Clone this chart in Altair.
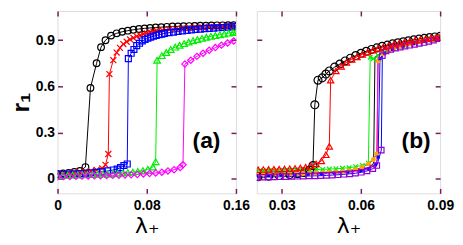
import altair as alt
import pandas as pd

# ---------------- panel (a) data ----------------
a_black_x = [0, 0.005, 0.01, 0.015, 0.02, 0.025, 0.0295, 0.035, 0.039, 0.043, 0.048, 0.053, 0.058, 0.063, 0.068, 0.073,
             0.078, 0.083, 0.088, 0.093, 0.098, 0.103, 0.108, 0.113, 0.118, 0.123, 0.128, 0.133, 0.138, 0.143, 0.148,
             0.153, 0.158]
a_black_y = [0.03, 0.033, 0.037, 0.043, 0.05, 0.075, 0.59, 0.75, 0.855, 0.9, 0.93, 0.945, 0.955, 0.962, 0.968, 0.973,
             0.977, 0.98, 0.983, 0.985, 0.987, 0.989, 0.99, 0.991, 0.992, 0.993, 0.994, 0.995, 0.996, 0.997, 0.997,
             0.998, 0.998]

a_red_x = [0, 0.005, 0.01, 0.015, 0.02, 0.025, 0.03, 0.035, 0.04, 0.043, 0.0455, 0.0465, 0.05, 0.053, 0.056, 0.059,
           0.062, 0.065, 0.068, 0.071, 0.074, 0.077, 0.08, 0.083, 0.086, 0.089, 0.094, 0.1, 0.106, 0.112, 0.118, 0.124,
           0.13, 0.136, 0.142, 0.148, 0.154, 0.16]
a_red_y = [0.03, 0.034, 0.037, 0.04, 0.043, 0.046, 0.05, 0.056, 0.066, 0.09, 0.16, 0.68, 0.77, 0.82, 0.85, 0.875,
           0.89, 0.905, 0.915, 0.925, 0.932, 0.94, 0.945, 0.95, 0.955, 0.96, 0.965, 0.97, 0.974, 0.977, 0.98, 0.982,
           0.984, 0.986, 0.988, 0.99, 0.991, 0.992]

a_blue_x = [0, 0.005, 0.01, 0.015, 0.02, 0.025, 0.03, 0.035, 0.04, 0.045, 0.05, 0.0535, 0.0565, 0.0595, 0.0625,
            0.0635, 0.066, 0.0685, 0.071, 0.0735, 0.076, 0.0785, 0.081, 0.0835, 0.086, 0.0885, 0.091, 0.0935, 0.096,
            0.1, 0.104, 0.108, 0.112, 0.116, 0.12, 0.124, 0.128, 0.132, 0.136, 0.14, 0.144, 0.148, 0.152, 0.156, 0.16]
a_blue_y = [0.025, 0.027, 0.029, 0.031, 0.033, 0.035, 0.038, 0.041, 0.045, 0.05, 0.056, 0.062, 0.072, 0.085, 0.095,
            0.78, 0.815, 0.84, 0.865, 0.88, 0.895, 0.905, 0.913, 0.92, 0.926, 0.931, 0.936, 0.94, 0.944,
            0.949, 0.953, 0.957, 0.961, 0.964, 0.967, 0.97, 0.972, 0.975, 0.977, 0.979, 0.981, 0.983, 0.985, 0.987, 0.988]

a_green_x = [0, 0.0045, 0.009, 0.0135, 0.018, 0.0225, 0.027, 0.0315, 0.036, 0.0405, 0.045, 0.0495, 0.054, 0.0585,
             0.063, 0.0675, 0.072, 0.0765, 0.081, 0.0855, 0.088, 0.0893, 0.0935, 0.0975, 0.1015, 0.1055, 0.1095,
             0.1135, 0.1175, 0.1215, 0.1255, 0.1295, 0.1335, 0.1375, 0.1415, 0.1455, 0.1495, 0.1535, 0.1575, 0.16]
a_green_y = [0.02, 0.021, 0.022, 0.023, 0.024, 0.025, 0.026, 0.027, 0.028, 0.029, 0.03, 0.032, 0.034, 0.036,
             0.039, 0.042, 0.046, 0.052, 0.06, 0.075, 0.11, 0.77, 0.8, 0.82, 0.84, 0.855, 0.867,
             0.878, 0.888, 0.897, 0.905, 0.912, 0.919, 0.925, 0.93, 0.936, 0.941, 0.946, 0.95, 0.953]

a_mag_x = [0, 0.0055, 0.011, 0.0165, 0.022, 0.0275, 0.033, 0.0385, 0.044, 0.0495, 0.055, 0.0605, 0.066, 0.0715,
           0.077, 0.0825, 0.088, 0.0935, 0.099, 0.1045, 0.11, 0.1125, 0.1142, 0.1195, 0.125, 0.1305, 0.136, 0.1415,
           0.147, 0.1525, 0.158]
a_mag_y = [0.012, 0.013, 0.014, 0.015, 0.016, 0.017, 0.018, 0.019, 0.02, 0.021, 0.022, 0.023, 0.025, 0.027,
           0.03, 0.033, 0.037, 0.042, 0.05, 0.058, 0.072, 0.09, 0.745, 0.77, 0.795, 0.815, 0.835, 0.852,
           0.868, 0.882, 0.895]

# ---------------- panel (b) data ----------------
b_black_x = [0.021, 0.025, 0.029, 0.033, 0.036, 0.0385, 0.0405, 0.0418, 0.0425, 0.0437, 0.0453, 0.0467, 0.048,
             0.05, 0.052, 0.054, 0.056, 0.058, 0.06, 0.062, 0.064, 0.066, 0.068, 0.07, 0.072, 0.074, 0.076, 0.078,
             0.08, 0.082, 0.084, 0.086, 0.088, 0.09]
b_black_y = [0.012, 0.016, 0.02, 0.026, 0.032, 0.04, 0.055, 0.085, 0.48, 0.64, 0.655, 0.68, 0.70,
             0.725, 0.745, 0.765, 0.783, 0.8, 0.815, 0.828, 0.84, 0.85, 0.86, 0.868, 0.876, 0.883, 0.89, 0.896,
             0.902, 0.907, 0.912, 0.917, 0.921, 0.925]

b_red_x = [0.021, 0.023, 0.025, 0.027, 0.029, 0.031, 0.033, 0.035, 0.037, 0.039, 0.041, 0.043, 0.045, 0.0467, 0.048,
           0.0485, 0.0505, 0.0525, 0.0545, 0.0565, 0.0585, 0.0605, 0.0625, 0.0645, 0.0665, 0.0685, 0.0705, 0.0725,
           0.0745, 0.0765, 0.0785, 0.0805, 0.0825, 0.0845, 0.0865, 0.0885, 0.09]
b_red_y = [0.058, 0.059, 0.06, 0.061, 0.062, 0.063, 0.064, 0.066, 0.069, 0.074, 0.082, 0.095, 0.115, 0.155, 0.21,
           0.64, 0.7, 0.73, 0.755, 0.775, 0.792, 0.808, 0.822, 0.835, 0.847, 0.857, 0.866, 0.874,
           0.881, 0.888, 0.894, 0.9, 0.905, 0.91, 0.915, 0.92, 0.923]

b_green_x = [0.0205, 0.023, 0.0255, 0.028, 0.0305, 0.033, 0.0355, 0.038, 0.0405, 0.043, 0.0455, 0.048, 0.0505, 0.053,
             0.0555, 0.058, 0.0605, 0.0628, 0.0635, 0.0647, 0.0665, 0.0685, 0.0705, 0.0725, 0.0745, 0.0765, 0.0785,
             0.0805, 0.0825, 0.0845, 0.0865, 0.0885, 0.09]
b_green_y = [0.05, 0.051, 0.052, 0.053, 0.054, 0.055, 0.056, 0.057, 0.058, 0.059, 0.06, 0.062, 0.064, 0.067,
             0.071, 0.077, 0.086, 0.1, 0.79, 0.78, 0.8, 0.818, 0.833, 0.846, 0.857, 0.867, 0.876,
             0.884, 0.892, 0.9, 0.907, 0.914, 0.92]

b_yellow_x = [0.0205, 0.03, 0.04, 0.05, 0.055, 0.06, 0.063, 0.0648, 0.0653, 0.067, 0.07, 0.074, 0.078, 0.082, 0.086, 0.09]
b_yellow_y = [0.03, 0.033, 0.037, 0.043, 0.048, 0.057, 0.072, 0.1, 0.79, 0.81, 0.832, 0.855, 0.872, 0.888, 0.903, 0.918]

b_orange_x = [0.0205, 0.023, 0.0255, 0.028, 0.0305, 0.033, 0.0355, 0.038, 0.0405, 0.043, 0.0455, 0.048, 0.0505,
              0.053, 0.0555, 0.058, 0.0605, 0.0629, 0.0647, 0.066, 0.0665, 0.0685, 0.0705, 0.0725, 0.0745, 0.0765,
              0.0785, 0.0805, 0.0825, 0.0845, 0.0865, 0.0885, 0.09]
b_orange_y = [0.025, 0.026, 0.027, 0.028, 0.029, 0.03, 0.031, 0.032, 0.034, 0.036, 0.038, 0.04, 0.043,
              0.047, 0.052, 0.06, 0.072, 0.095, 0.124, 0.16, 0.765, 0.81, 0.83, 0.845, 0.857, 0.867,
              0.876, 0.884, 0.892, 0.899, 0.906, 0.913, 0.918]

b_blue_x = [0.0205, 0.025, 0.03, 0.035, 0.04, 0.045, 0.05, 0.055, 0.06, 0.063, 0.0655, 0.0665, 0.0672, 0.069, 0.072,
            0.076, 0.08, 0.084, 0.088, 0.09]
b_blue_y = [0.02, 0.021, 0.023, 0.025, 0.028, 0.031, 0.035, 0.041, 0.052, 0.065, 0.09, 0.14, 0.78, 0.815, 0.84,
            0.862, 0.878, 0.893, 0.908, 0.915]

b_mag_x = [0.0205, 0.03, 0.04, 0.05, 0.055, 0.06, 0.063, 0.0652, 0.0661, 0.0664, 0.068, 0.071, 0.075, 0.079, 0.083,
           0.087, 0.09]
b_mag_y = [0.022, 0.025, 0.029, 0.035, 0.04, 0.05, 0.063, 0.085, 0.12, 0.79, 0.815, 0.838, 0.858, 0.873, 0.888,
           0.903, 0.916]

b_purple_x = [0.0205, 0.0227, 0.0249, 0.0271, 0.0293, 0.0315, 0.0337, 0.0359, 0.0381, 0.0403, 0.0425, 0.0447,
              0.0469, 0.0491, 0.0513, 0.0535, 0.0557, 0.0579, 0.0601, 0.0623, 0.0645, 0.066, 0.0677, 0.0681, 0.0695,
              0.0713, 0.0731, 0.0749, 0.0767, 0.0785, 0.0803, 0.0821, 0.0839, 0.0857, 0.0875, 0.0893]
b_purple_y = [0.008, 0.009, 0.01, 0.011, 0.012, 0.013, 0.014, 0.015, 0.016, 0.017, 0.018, 0.019,
              0.021, 0.023, 0.025, 0.028, 0.031, 0.035, 0.041, 0.05, 0.065, 0.085, 0.185, 0.8, 0.83,
              0.84, 0.848, 0.855, 0.861, 0.867, 0.873, 0.879, 0.885, 0.892, 0.9, 0.91]

a_xticks = [0, 0.08, 0.16]
b_xticks = [0.03, 0.06, 0.09]
y_ticks = [0, 0.3, 0.6, 0.9]
a_label = ["(a)", 0.1336, 0.244]
b_label = ["(b)", 0.0809, 0.242]

X_PATH = "M-1,-1L1,1M-1,1L1,-1"
TICK_COLOR = "#7b1e5c"
Y_DOM = [-0.096, 1.09]
FONT = "Liberation Sans"

# (name, xs, ys, colour, shape, filled, size, draw_points)
series_a = [
    ("black", a_black_x, a_black_y, "#000000", "circle", False, 45, True),
    ("red", a_red_x, a_red_y, "#ff0000", X_PATH, False, 36, True),
    ("blue", a_blue_x, a_blue_y, "#0000ff", "square", False, 36, True),
    ("green", a_green_x, a_green_y, "#00ee00", "triangle-up", False, 45, True),
    ("magenta", a_mag_x, a_mag_y, "#ff00ff", "diamond", False, 40, True),
]
series_b = [
    ("black", b_black_x, b_black_y, "#000000", "circle", False, 64, True),
    ("green", b_green_x, b_green_y, "#00ee00", X_PATH, False, 22, True),
    ("yellow", b_yellow_x, b_yellow_y, "#eeee00", "circle", True, 10, False),
    ("orange", b_orange_x, b_orange_y, "#ffa500", "circle", True, 25, True),
    ("blue", b_blue_x, b_blue_y, "#0000ff", "square", True, 10, True),
    ("magenta", b_mag_x, b_mag_y, "#ff00ff", "circle", True, 10, False),
    ("purple", b_purple_x, b_purple_y, "#9400d3", "square", False, 30, True),
    ("red", b_red_x, b_red_y, "#ff0000", "triangle-up", False, 40, True),
]


def tick_axis(orient, values):
    return alt.Axis(orient=orient, values=values, labels=False, ticks=True, tickSize=5,
                    tickColor=TICK_COLOR, tickWidth=1.5, domain=False, grid=False,
                    offset=-5, title=None)


def panel(series, xdom, xticks, ylab, label, W, H):
    frames = [pd.DataFrame({"x": xs, "y": ys, "s": n}) for n, xs, ys, *_ in series]
    df = pd.concat(frames, ignore_index=True)
    xs = alt.Scale(domain=xdom, nice=False, zero=False)
    ys = alt.Scale(domain=Y_DOM, nice=False, zero=False)

    x_main = alt.Axis(orient="bottom", values=xticks, format=".2~f", title="λ₊", ticks=False,
                      domain=False, grid=False, labelFlush=False, labelOverlap=False,
                      labelFont=FONT, labelFontSize=14, labelFontWeight="bold", labelColor="black",
                      labelPadding=5, titleFont="DejaVu Sans", titleFontSize=22,
                      titleFontWeight="normal", titleColor="black", titlePadding=3)
    if ylab:
        y_main = alt.Axis(orient="left", values=y_ticks, format=".1~f", title="r₁", ticks=False,
                          domain=False, grid=False, labelFont=FONT, labelFontSize=14,
                          labelFontWeight="bold", labelColor="black", labelPadding=3,
                          labelFlush=False, labelOverlap=False,
                          titleFont=FONT, titleFontSize=25, titleFontWeight="bold",
                          titleColor="black", titlePadding=2)
    else:
        y_main = None

    names = [s[0] for s in series]
    cols = [s[3] for s in series]
    lines = alt.Chart(df).mark_line(strokeWidth=1, clip=True).encode(
        x=alt.X("x:Q", scale=xs, axis=x_main),
        y=alt.Y("y:Q", scale=ys, axis=y_main),
        color=alt.Color("s:N", scale=alt.Scale(domain=names, range=cols), legend=None),
        order=alt.Order("x:Q"),
    )
    layers = [lines]
    for n, sx, sy, col, shape, filled, size, draw in series:
        if not draw:
            continue
        d = pd.DataFrame({"x": sx, "y": sy})
        if filled:
            mk = alt.Chart(d).mark_point(shape=shape, filled=True, size=size, color=col, opacity=1, clip=True)
        else:
            mk = alt.Chart(d).mark_point(shape=shape, filled=False, size=size, color=col,
                                         strokeWidth=1.2, opacity=1, clip=True)
        layers.append(mk.encode(x=alt.X("x:Q", scale=xs, axis=None),
                                y=alt.Y("y:Q", scale=ys, axis=None)))
    t1 = alt.Chart(df).mark_point(opacity=0).encode(
        x=alt.X("x:Q", scale=xs, axis=tick_axis("bottom", xticks)),
        y=alt.Y("y:Q", scale=ys, axis=tick_axis("left", y_ticks)))
    t2 = alt.Chart(df).mark_point(opacity=0).encode(
        x=alt.X("x:Q", scale=xs, axis=tick_axis("top", xticks)),
        y=alt.Y("y:Q", scale=ys, axis=tick_axis("right", y_ticks)))
    lab = alt.Chart(pd.DataFrame({"t": [label[0]], "x": [label[1]], "y": [label[2]]})).mark_text(
        font=FONT, fontSize=23, fontWeight="bold", color="black", align="center", baseline="middle"
    ).encode(x=alt.X("x:Q", scale=xs, axis=None), y=alt.Y("y:Q", scale=ys, axis=None), text="t:N")
    layers += [t1, t2, lab]
    return alt.layer(*layers).resolve_axis(x="independent", y="independent").properties(width=W, height=H)


pa = panel(series_a, [0, 0.16], a_xticks, True, a_label, 180, 184)
pb = panel(series_b, [0.0205, 0.09], b_xticks, False, b_label, 185, 184)

chart = alt.hconcat(pa, pb, spacing=21, bounds="flush").properties(
    padding={"left": 0, "top": 0, "right": 0, "bottom": 0}
).configure_view(stroke="black", strokeWidth=1.5).configure(background="white")

chart.save("out.html", embed_options={"renderer": "svg", "actions": False})
